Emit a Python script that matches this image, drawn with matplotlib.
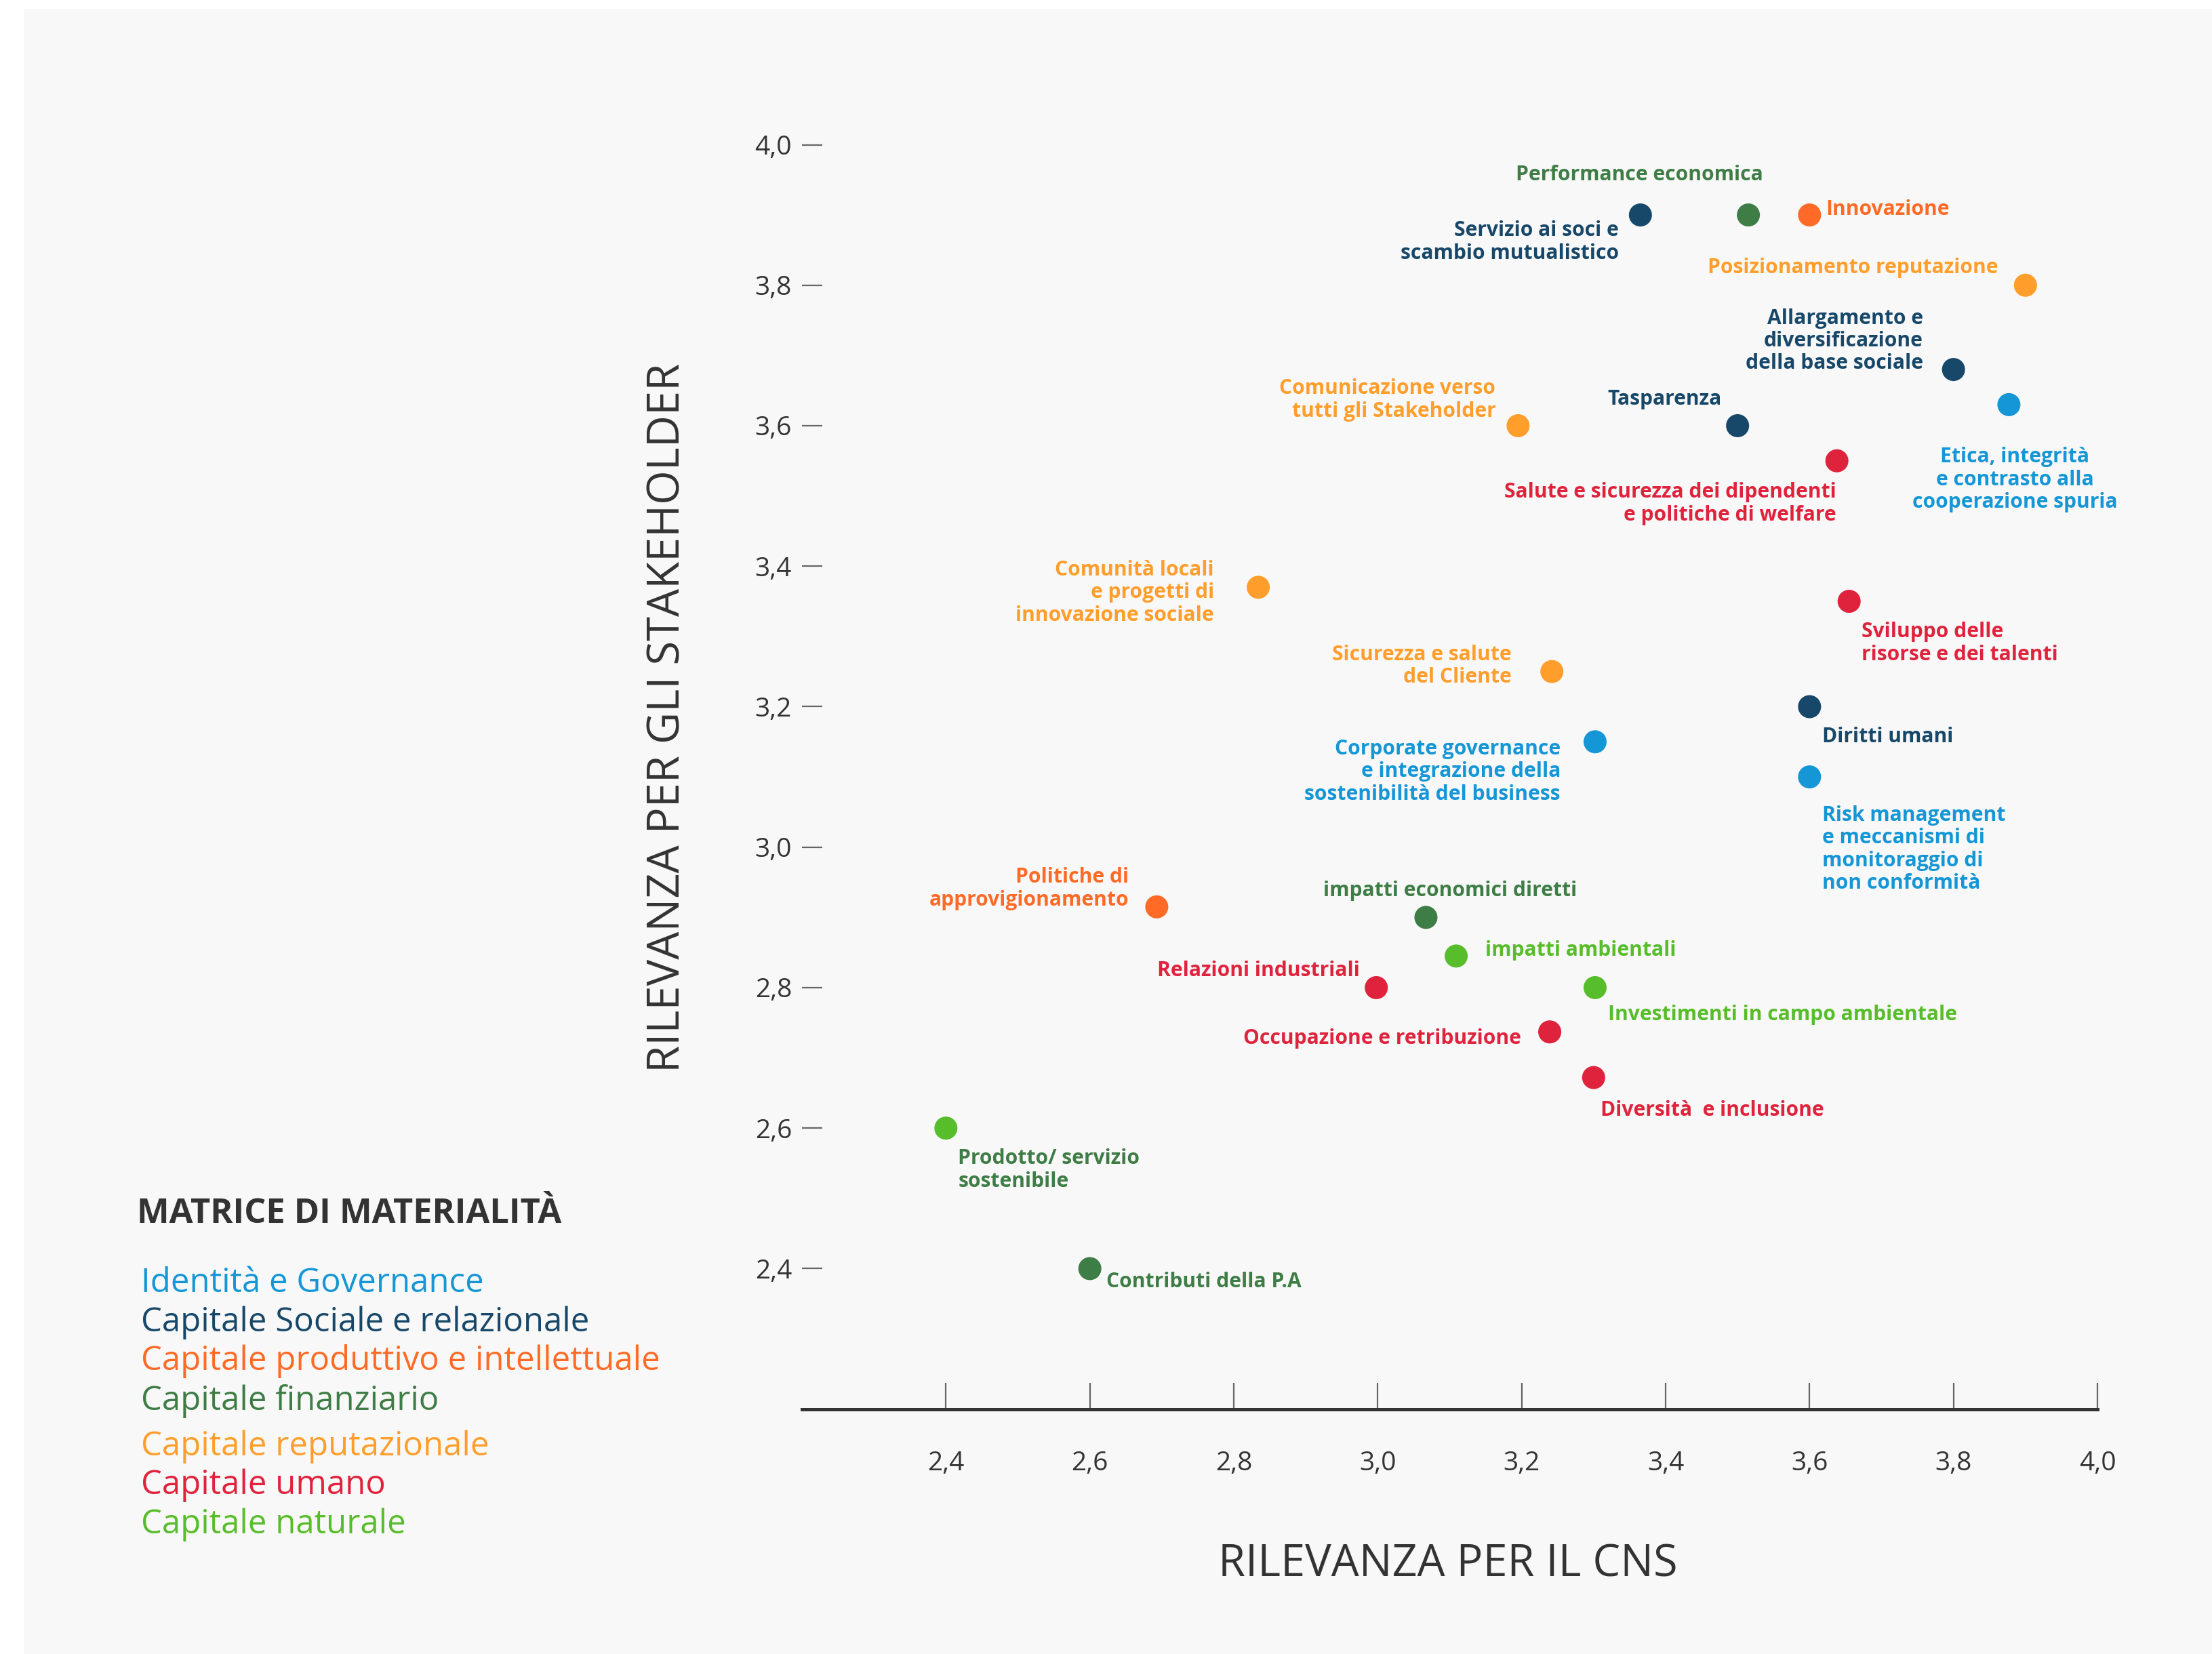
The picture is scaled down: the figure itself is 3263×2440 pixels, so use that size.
import matplotlib
matplotlib.use("Agg")
import matplotlib.pyplot as plt
from matplotlib.patches import Rectangle

# ---- data -------------------------------------------------------------
capitals = [
    "Identità e Governance",
    "Capitale Sociale e relazionale",
    "Capitale produttivo e intellettuale",
    "Capitale finanziario",
    "Capitale reputazionale",
    "Capitale umano",
    "Capitale naturale",
]
capital_colors = ["#1596d6", "#174769", "#ff6b26", "#3e7d45",
                  "#ff9e2b", "#e0233d", "#58bd2a"]

topics = [
    "Servizio ai soci e\nscambio mutualistico",
    "Performance economica",
    "Innovazione",
    "Posizionamento reputazione",
    "Allargamento e\ndiversificazione\ndella base sociale",
    "Tasparenza",
    "Etica, integrità\ne contrasto alla\ncooperazione spuria",
    "Salute e sicurezza dei dipendenti\ne politiche di welfare",
    "Sviluppo delle\nrisorse e dei talenti",
    "Comunicazione verso\ntutti gli Stakeholder",
    "Comunità locali\ne progetti di\ninnovazione sociale",
    "Sicurezza e salute\ndel Cliente",
    "Corporate governance\ne integrazione della\nsostenibilità del business",
    "Diritti umani",
    "Risk management\ne meccanismi di\nmonitoraggio di\nnon conformità",
    "Politiche di\napprovigionamento",
    "impatti economici diretti",
    "impatti ambientali",
    "Relazioni industriali",
    "Investimenti in campo ambientale",
    "Occupazione e retribuzione",
    "Diversità  e inclusione",
    "Prodotto/ servizio\nsostenibile",
    "Contributi della P.A",
]
rilevanza_cns = [3.365, 3.515, 3.60, 3.90, 3.80, 3.50, 3.877, 3.638, 3.655, 3.195,
                 2.834, 3.242, 3.302, 3.60, 3.60, 2.693, 3.067, 3.109, 2.998, 3.302,
                 3.239, 3.30, 2.40, 2.60]
rilevanza_stakeholder = [3.90, 3.90, 3.90, 3.80, 3.68, 3.60, 3.63, 3.55, 3.35, 3.60,
                         3.37, 3.25, 3.15, 3.20, 3.10, 2.915, 2.90, 2.845, 2.80, 2.80,
                         2.737, 2.672, 2.60, 2.40]
capital_of_topic = [1, 3, 2, 4, 1, 1, 0, 5, 5, 4,
                    4, 4, 0, 1, 0, 2, 3, 6, 5, 6,
                    5, 5, 6, 3]
# capital whose colour is used for each label text
label_capital = [1, 3, 2, 4, 1, 1, 0, 5, 5, 4,
                 4, 4, 0, 1, 0, 2, 3, 6, 5, 6,
                 5, 5, 3, 3]

x_ticks = [2.4, 2.6, 2.8, 3.0, 3.2, 3.4, 3.6, 3.8, 4.0]
y_ticks = [2.4, 2.6, 2.8, 3.0, 3.2, 3.4, 3.6, 3.8, 4.0]

# ---- label placement: (dx, dy of first baseline) in pixels from the dot
label_layout = [
    (-32, -31, "right"),
    (-161, 51, "center"),
    (24, 0, "left"),
    (-40, 18, "right"),
    (-45, 68, "right"),
    (-24, 31, "right"),
    (9, -85, "center"),
    (-1, -54, "right"),
    (18, -53, "left"),
    (-33, 47, "right"),
    (-65, 18, "right"),
    (-60, 17, "right"),
    (-51, -18, "right"),
    (19, -53, "left"),
    (19, -64, "left"),
    (-41, 36, "right"),
    (36, 31, "center"),
    (43, 0, "left"),
    (-24, 17, "right"),
    (19, -48, "left"),
    (-42, -18, "right"),
    (10, -56, "left"),
    (18, -53, "left"),
    (24, -28, "left"),
]
LINE_PX = 33.7  # distance between label lines

FONT = "Open Sans"
plt.rcParams["font.family"] = [FONT, "DejaVu Sans"]
TXT = "#333333"

DPI = 200
W, H = 3263, 2440
fig = plt.figure(figsize=(W / DPI, H / DPI), dpi=DPI, facecolor="white")

# light panel behind everything
fig.patches.append(Rectangle((35 / W, 0), 1 - 35 / W, 1 - 13 / H,
                             transform=fig.transFigure, facecolor="#f8f8f8",
                             edgecolor="none", zorder=-10))

ax = fig.add_axes([1183 / W, 1 - 2078.7 / H, (3094 - 1183) / W, (2078.7 - 213.5) / H])
ax.set_zorder(1)
ax.set_facecolor("none")
ax.set_xlim(2.2, 4.0)
ax.set_ylim(2.2, 4.0)

for s in ("top", "right", "left"):
    ax.spines[s].set_visible(False)
ax.spines["bottom"].set_color(TXT)
ax.spines["bottom"].set_linewidth(1.8)

ax.set_xticks(x_ticks)
ax.set_yticks(y_ticks)
ax.set_xticklabels([f"{v:.1f}".replace(".", ",") for v in x_ticks])
ax.set_yticklabels([f"{v:.1f}".replace(".", ",") for v in y_ticks])
ax.tick_params(axis="x", direction="in", length=14, width=0.8, color="#666666",
               pad=22, labelsize=14, labelcolor=TXT)
ax.tick_params(axis="y", direction="in", length=10.8, width=0.8, color="#666666",
               pad=5.4, labelsize=14, labelcolor=TXT)

ax.set_xlabel("RILEVANZA PER IL CNS", fontsize=23.3, color=TXT)
ax.xaxis.set_label_coords(0.4985, -0.123)
ax.xaxis.label.set(ha="center", va="center")
ax.set_ylabel("RILEVANZA PER GLI STAKEHOLDER", fontsize=23.4, color=TXT)
ax.yaxis.set_label_coords(-0.1036, 0.547)
ax.yaxis.label.set(ha="center", va="center")

dot_colors = [capital_colors[g] for g in capital_of_topic]
ax.scatter(rilevanza_cns, rilevanza_stakeholder, s=150, c=dot_colors,
           linewidths=0, zorder=3, clip_on=False)

for i, name in enumerate(topics):
    dx, dy, ha = label_layout[i]
    # matplotlib's baseline alignment refers to the last line
    dy_last = dy - name.count("\n") * LINE_PX
    ax.annotate(name, xy=(rilevanza_cns[i], rilevanza_stakeholder[i]),
                xytext=(dx, dy_last), textcoords="offset pixels",
                ha=ha, va="baseline", fontsize=10.8, fontweight="bold",
                color=capital_colors[label_capital[i]], linespacing=1.15,
                zorder=4)

# legend block
fig.text(202 / W, 1 - 1804 / H, "MATRICE DI MATERIALITÀ", fontsize=18.2,
         fontweight="bold", color=TXT, ha="left", va="baseline")
legend_baselines = [1906, 1964, 2021, 2080, 2147, 2204, 2262]
for name, col, yb in zip(capitals, capital_colors, legend_baselines):
    fig.text(208 / W, 1 - yb / H, name, fontsize=17.7, color=col,
             ha="left", va="baseline")

fig.savefig("out.png", dpi=DPI, facecolor="white")
